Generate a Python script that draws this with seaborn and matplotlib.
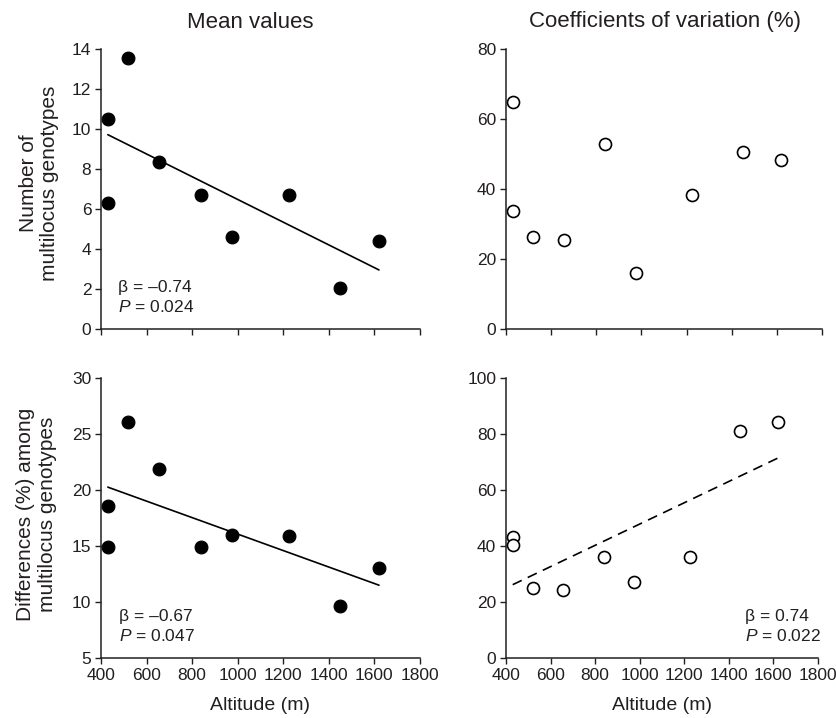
#! /usr/bin/env python3

import numpy as np
import pandas as pd
import matplotlib
matplotlib.use('Agg')
import matplotlib.pyplot as plt
import seaborn as sns

# altitude of the nine populations (m)
altitude = [430, 430, 520, 655, 840, 975, 1225, 1450, 1620]

# number of multilocus genotypes
n_mean = [10.5, 6.3, 13.55, 8.35, 6.7, 4.6, 6.7, 2.05, 4.4]
n_cv = [64.8, 33.6, 26.4, 25.4, 52.8, 16.1, 38.2, 50.5, 48.4]

# differences (%) among multilocus genotypes
d_mean = [18.6, 14.9, 26.05, 21.9, 14.95, 15.95, 15.85, 9.6, 13.05]
d_cv = [43.3, 40.5, 25.1, 24.3, 36.2, 27.0, 36.2, 81.1, 84.4]

x_ticks = [400, 600, 800, 1000, 1200, 1400, 1600, 1800]

INK = '#231f20'

sns.set_theme(style='ticks')
plt.rcParams['font.family'] = ['Liberation Sans', 'DejaVu Sans']
plt.rcParams['mathtext.fontset'] = 'custom'
plt.rcParams['mathtext.rm'] = 'Liberation Sans'
plt.rcParams['mathtext.it'] = 'Liberation Sans:italic'
plt.rcParams['text.color'] = INK
plt.rcParams['axes.labelcolor'] = INK
plt.rcParams['xtick.color'] = INK
plt.rcParams['ytick.color'] = INK

W, H = 837, 718


def box(l, t, r, b):
    return [l / W, 1 - b / H, (r - l) / W, (b - t) / H]


def style_axis(ax, yticks, xlabels):
    ax.set_xlim(400, 1800)
    ax.set_xticks(x_ticks)
    ax.set_ylim(yticks[0], yticks[-1])
    ax.set_yticks(yticks)
    sns.despine(ax=ax)
    for s in ('left', 'bottom'):
        ax.spines[s].set_linewidth(1.1)
        ax.spines[s].set_color(INK)
    ax.tick_params(length=4, width=1.0, labelsize=12.5, pad=3)
    if not xlabels:
        ax.set_xticklabels([])
    ax.set_xlabel('')
    ax.set_ylabel('')


def scatter(ax, y, filled):
    df = pd.DataFrame({'alt': altitude, 'val': y})
    if filled:
        sns.scatterplot(data=df, x='alt', y='val', ax=ax, s=85,
                        color='black', edgecolor='black', linewidth=0.8, zorder=3)
    else:
        sns.scatterplot(data=df, x='alt', y='val', ax=ax, s=75,
                        facecolor='white', edgecolor='black', linewidth=1.2, zorder=3)
    return df


fig = plt.figure(figsize=(W / 100, H / 100), dpi=100)

ax1 = fig.add_axes(box(101, 49, 420, 329))
ax2 = fig.add_axes(box(506, 49, 822, 329))
ax3 = fig.add_axes(box(101, 378, 420, 658))
ax4 = fig.add_axes(box(506, 378, 818, 658))

df = scatter(ax1, n_mean, True)
sns.regplot(data=df, x='alt', y='val', ax=ax1, scatter=False, ci=None,
            color='black', line_kws={'linewidth': 1.2})
style_axis(ax1, list(range(0, 15, 2)), False)

scatter(ax2, n_cv, False)
style_axis(ax2, list(range(0, 81, 20)), False)

df = scatter(ax3, d_mean, True)
sns.regplot(data=df, x='alt', y='val', ax=ax3, scatter=False, ci=None,
            color='black', line_kws={'linewidth': 1.2})
style_axis(ax3, list(range(5, 31, 5)), True)

df = scatter(ax4, d_cv, False)
sns.regplot(data=df, x='alt', y='val', ax=ax4, scatter=False, ci=None,
            color='black', line_kws={'linewidth': 1.2, 'linestyle': (0, (6, 4))})
style_axis(ax4, list(range(0, 101, 20)), True)

for ax in (ax3, ax4):
    ax.set_xlabel('Altitude (m)', fontsize=14, labelpad=10)

# column titles
fig.text(250 / W, 1 - 22 / H, 'Mean values', ha='center', va='center', fontsize=16)
fig.text(665 / W, 1 - 22 / H, 'Coefficients of variation (%)',
         ha='center', va='center', fontsize=16)

# row labels
fig.text(39 / W, 1 - 183 / H, 'Number of\nmultilocus genotypes', rotation=90,
         ha='center', va='center', fontsize=15, multialignment='center',
         linespacing=1.2)
fig.text(37 / W, 1 - 514 / H, 'Differences (%) among\nmultilocus genotypes', rotation=90,
         ha='center', va='center', fontsize=15, multialignment='center',
         linespacing=1.2)

# statistics
stats = [
    (ax1, 0.053, '\u03b2 = \u20130.74', '$P$ = 0.024'),
    (ax3, 0.056, '\u03b2 = \u20130.67', '$P$ = 0.047'),
    (ax4, 0.766, '\u03b2 = 0.74', '$P$ = 0.022'),
]
for ax, xf, b, p in stats:
    ax.text(xf, 0.148, b, transform=ax.transAxes, ha='left', va='center', fontsize=12.5)
    ax.text(xf, 0.080, p, transform=ax.transAxes, ha='left', va='center', fontsize=12.5)

plt.savefig('out.png', dpi=100)
